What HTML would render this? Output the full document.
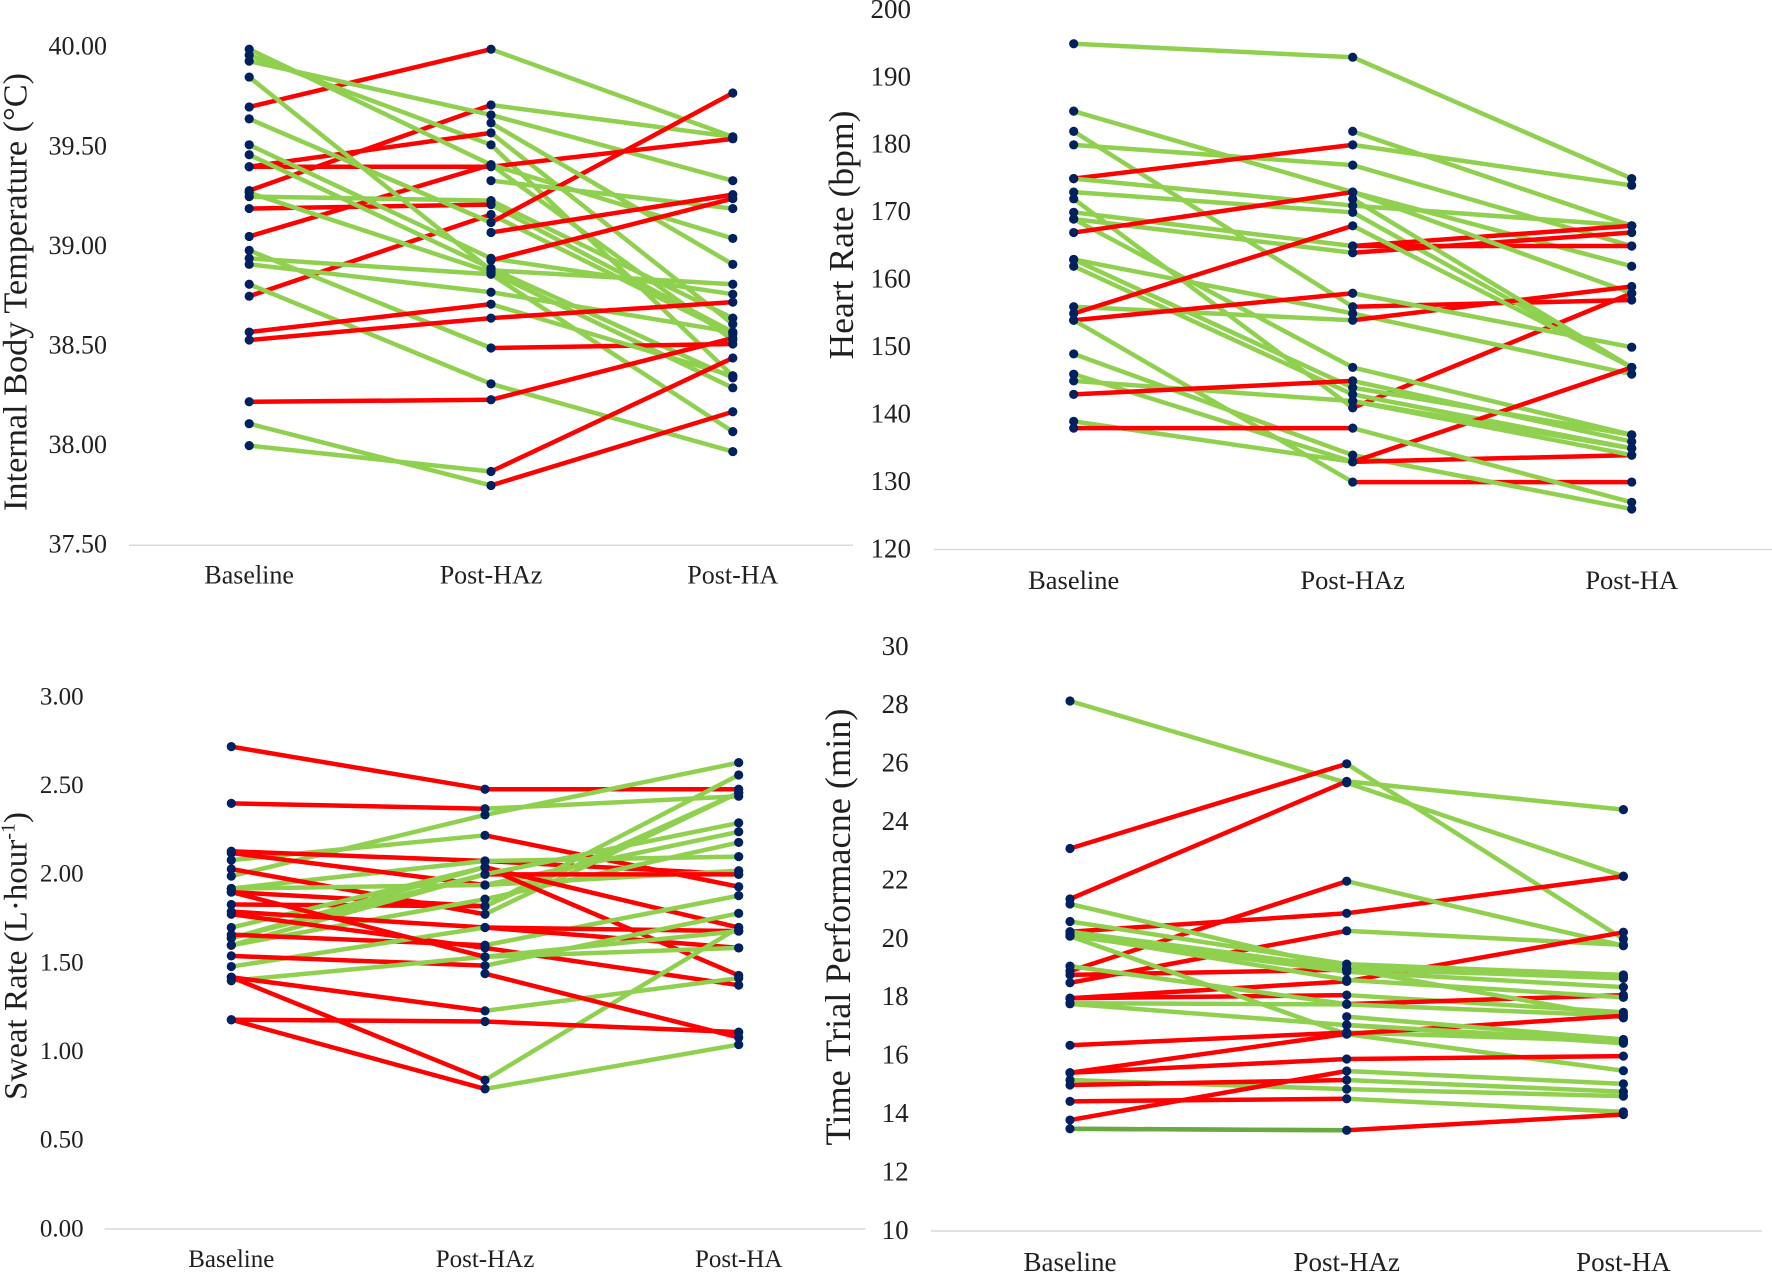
<!DOCTYPE html>
<html lang="en">
<head>
<meta charset="utf-8">
<title>Heat acclimation outcomes</title>
<style>
html,body{margin:0;padding:0;background:#fff;width:1772px;height:1272px;overflow:hidden}
svg{display:block}
text{font-family:"Liberation Serif",serif;fill:#1f1f1f}
</style>
</head>
<body>
<svg id="fig" xmlns="http://www.w3.org/2000/svg" width="1772" height="1272" viewBox="0 0 1772 1272">
  <rect width="1772" height="1272" fill="#fff"/>
  <text transform="translate(26.5,292) rotate(-90)" text-anchor="middle" font-size="34" textLength="438" lengthAdjust="spacingAndGlyphs">Internal Body Temperature (°C)</text>
  <text transform="translate(853,235) rotate(-90)" text-anchor="middle" font-size="35" textLength="249" lengthAdjust="spacingAndGlyphs">Heart Rate (bpm)</text>
  <text transform="translate(26.5,956) rotate(-90)" text-anchor="middle" font-size="33">Sweat Rate (L·hour<tspan font-size="20" dy="-12">-1</tspan><tspan dy="12">)</tspan></text>
  <text transform="translate(850,927) rotate(-90)" text-anchor="middle" font-size="36" textLength="437" lengthAdjust="spacingAndGlyphs">Time Trial Performacne (min)</text>
</svg>
<script>
const categories = ["Baseline", "Post-HAz", "Post-HA"];

const temperatureTicks = ["37.50", "38.00", "38.50", "39.00", "39.50", "40.00"];
const temperatureSeries = [
  [39.70, 39.99, 39.55], [39.28, 39.71, 39.55], [39.93, 39.66, 39.33], [39.96, 39.51, 38.35],
  [39.40, 39.57, 38.61], [39.40, 39.40, 39.54], [39.99, 39.41, 39.04], [39.05, 39.41, 38.53],
  [39.25, 39.23, 38.64], [39.19, 39.21, 38.57], [38.75, 39.16, 38.56], [39.85, 38.88, 38.81],
  [39.64, 39.12, 39.77], [39.51, 38.94, 38.76], [39.46, 38.89, 38.34], [39.27, 38.87, 38.29],
  [38.94, 38.86, 38.07], [38.91, 38.77, 38.57], [38.98, 38.49, 38.51], [38.81, 38.31, 37.97],
  [38.57, 38.71, 38.35], [38.53, 38.64, 38.72], [38.22, 38.23, 38.54], [38.11, 37.80, 38.17],
  [38.00, 37.87, 38.44], [null, 39.62, 38.91], [null, 39.33, 39.19], [null, 39.07, 39.26],
  [null, 38.93, 39.24]
];

const heartRateTicks = ["120", "130", "140", "150", "160", "170", "180", "190", "200"];
const heartRateSeries = [
  [195, 193, 175], [185, 173, 162], [182, 156, 157], [180, 177, 165], [175, 180, 174],
  [null, 182, 168], [175, 171, 168], [173, 170, 147], [172, 141, 158], [170, 165, 168],
  [169, 164, 167], [null, 165, 165], [169, 147, 137], [167, 173, 158], [163, 155, 146],
  [163, 144, 137], [162, 143, 135], [156, 154, 159], [155, 168, 147], [154, 158, 150],
  [154, 130, 130], [149, 134, 126], [146, 133, 147], [145, 142, 135], [143, 145, 136],
  [139, 133, 134], [138, 138, 127], [null, 172, 147], [null, 142, 134]
];

const sweatTicks = ["0.00", "0.50", "1.00", "1.50", "2.00", "2.50", "3.00"];
const sweatSeries = [
  [2.72, 2.48, 2.48], [2.40, 2.37, 2.44], [1.99, 2.335, 2.63], [2.08, 2.22, 1.93],
  [2.13, 2.075, 2.00], [1.92, 2.075, 2.10], [2.12, 1.94, 2.02], [2.03, 1.775, 2.46],
  [1.92, 1.94, 2.24], [1.90, 1.82, 2.56], [1.83, 1.82, 2.46], [1.60, 1.86, 2.18],
  [1.70, 2.04, 1.70], [1.64, 2.04, 1.43], [1.64, 2.00, 2.00], [1.60, 2.00, 2.29],
  [1.66, 1.60, 1.88], [1.79, 1.70, 1.68], [1.775, 1.585, 1.375], [1.48, 1.70, 1.585],
  [1.54, 1.485, 1.78], [1.40, 1.535, 1.585], [1.90, 1.535, 1.68], [1.42, 1.23, 1.415],
  [1.42, 0.84, 1.70], [null, 1.44, 1.08], [1.18, 1.17, 1.11], [1.18, 0.79, 1.04]
];

const timeTrialTicks = ["10", "12", "14", "16", "18", "20", "22", "24", "26", "28", "30"];
const timeTrialSeries = [
  [28.15, 25.35, 22.15], [23.10, 26.00, 20.00], [21.37, 25.40, 24.43], [20.25, 20.88, 22.15],
  [18.90, 21.98, 19.77], [18.50, 20.28, 19.80], [18.77, 18.95, 18.70], [17.97, 18.55, 20.23],
  [17.97, 18.08, 17.49], [19.07, 17.77, 18.08], [17.80, 17.76, 17.37], [17.78, 17.05, 16.43],
  [21.20, 18.98, 17.30], [20.60, 19.14, 18.77], [20.25, 19.00, 18.65], [20.10, 18.88, 18.35],
  [20.15, 18.60, 18.00], [20.10, 16.74, 15.49], [16.36, 16.80, 16.50], [15.42, 16.75, 17.37],
  [15.42, 15.89, 15.99], [15.17, 14.86, 14.62], [15.00, 15.17, 14.77], [14.44, 14.53, 14.08],
  [13.80, 15.48, 15.04], [13.50, 13.45, 13.99], [null, 17.34, 16.56], [null, 17.06, 16.50]
];

const NS = "http://www.w3.org/2000/svg";
const fig = document.getElementById("fig");

function make(tag, attrs) {
  const el = document.createElementNS(NS, tag);
  for (const k in attrs) el.setAttribute(k, attrs[k]);
  return el;
}

function drawPanel(p) {
  const lo = parseFloat(p.ticks[0]);
  const hi = parseFloat(p.ticks[p.ticks.length - 1]);
  const yScale = v => p.yBottom + (v - lo) / (hi - lo) * (p.yTop - p.yBottom);
  const xScale = i => p.xFirst + i * p.xStep;

  const group = make("g", {});
  
  
  fig.appendChild(group);

  const axis = make("line", { x1: p.axisStart, x2: p.axisEnd, y1: p.yBottom, y2: p.yBottom, stroke: "#d9d9d9", "stroke-width": 1.5 });
  
  
  group.appendChild(axis);

  p.ticks.forEach(label => {
    const t = make("text", { x: p.tickRight, y: yScale(parseFloat(label)) + p.tickSize * 0.29, "text-anchor": "end", "font-size": p.tickSize });
    
    
    t.textContent = label;
    group.appendChild(t);
  });

  categories.forEach((label, i) => {
    const t = make("text", { x: xScale(i), y: p.catBaseline, "text-anchor": "middle", "font-size": p.catSize });
    
    
    t.textContent = label;
    group.appendChild(t);
  });

  p.series.forEach(row => {
    for (let i = 0; i < row.length - 1; i++) {
      if (row[i] === null || row[i + 1] === null) continue;
      const good = p.greenWhenRising ? row[i + 1] > row[i] : row[i + 1] < row[i];
      const seg = make("line", {
        x1: xScale(i), y1: yScale(row[i]), x2: xScale(i + 1), y2: yScale(row[i + 1]),
        stroke: good ? "#8fd14f" : "#ff0000", "stroke-width": 4.5
      });
      
      
      group.appendChild(seg);
    }
  });

  if (p.overlap) {
    const o = make("line", {
      x1: xScale(0), y1: yScale(p.overlap[0]), x2: xScale(1), y2: yScale(p.overlap[1]),
      stroke: "#6aa842", "stroke-width": 4.5
    });
    
    
    group.appendChild(o);
  }

  p.series.forEach(row => {
    row.forEach((v, i) => {
      if (v === null) return;
      const c = make("circle", { cx: xScale(i), cy: yScale(v), r: 4.6, fill: "#002060" });
      
      
      group.appendChild(c);
    });
  });
}

drawPanel({ name: "temperature", ticks: temperatureTicks, series: temperatureSeries, greenWhenRising: false,
  xFirst: 249.2, xStep: 241.8, yBottom: 545.2, yTop: 47.2, axisStart: 129, axisEnd: 853,
  tickRight: 107, tickSize: 26, catBaseline: 583.5, catSize: 26 });
drawPanel({ name: "heart-rate", ticks: heartRateTicks, series: heartRateSeries, greenWhenRising: false,
  xFirst: 1073.7, xStep: 279, yBottom: 549.5, yTop: 10, axisStart: 934, axisEnd: 1772,
  tickRight: 911, tickSize: 27, catBaseline: 589, catSize: 26.5 });
drawPanel({ name: "sweat-rate", ticks: sweatTicks, series: sweatSeries, greenWhenRising: true,
  xFirst: 231.3, xStep: 253.7, yBottom: 1229, yTop: 697, axisStart: 104.5, axisEnd: 865.5,
  tickRight: 83.6, tickSize: 25, catBaseline: 1267, catSize: 25 });
drawPanel({ name: "time-trial", ticks: timeTrialTicks, series: timeTrialSeries, greenWhenRising: false,
  overlap: [13.50, 13.45],
  xFirst: 1070, xStep: 276.7, yBottom: 1231, yTop: 647, axisStart: 931, axisEnd: 1762,
  tickRight: 908.6, tickSize: 27, catBaseline: 1271, catSize: 27 });
</script>
</body>
</html>
